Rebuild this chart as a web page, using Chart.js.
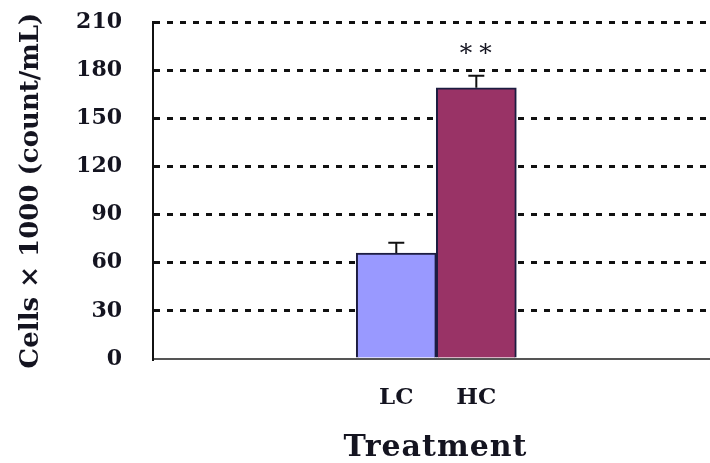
<!DOCTYPE html>
<html>
<head>
<meta charset="utf-8">
<script src="https://cdn.jsdelivr.net/npm/chart.js@4/dist/chart.umd.min.js"></script>
<style>
  html, body { margin: 0; padding: 0; background: #fff; }
  #wrap { width: 710px; height: 463px; }
</style>
</head>
<body>
<div id="wrap"><canvas id="c" width="710" height="463"></canvas></div>
<script>
// Cell counts per treatment (cells x 1000 per mL)
const categories = ['LC', 'HC'];
const cellCounts = [66, 169];
const errors = [6.5, 7.5];
const significance = ['', '**'];
const yTicks = [0, 30, 60, 90, 120, 150, 180, 210];
const barColors = ['#9999FF', '#993366'];

// Horizontal extent of the plot, in category units (bars sit at 0 and 1)
const X_MIN = -3.04;
const X_MAX = 3.92;

const SERIF = '"DejaVu Serif", "Liberation Serif", serif';
const INK = '#141420';

// Error bars (upper whisker), significance marks and the x-axis title
const annotate = {
  id: 'annotate',
  afterDatasetsDraw(chart) {
    const { ctx, scales: { x, y } } = chart;
    ctx.save();
    ctx.strokeStyle = '#111';
    ctx.lineWidth = 2;
    cellCounts.forEach((v, i) => {
      const px = x.getPixelForValue(i);
      const top = y.getPixelForValue(v + errors[i]);
      const base = y.getPixelForValue(v);
      ctx.beginPath();
      ctx.moveTo(px, base);
      ctx.lineTo(px, top);
      ctx.moveTo(px - 8, top);
      ctx.lineTo(px + 8, top);
      ctx.stroke();
      if (significance[i]) {
        ctx.fillStyle = INK;
        ctx.font = '25px ' + SERIF;
        ctx.letterSpacing = '7px';
        ctx.textAlign = 'center';
        ctx.textBaseline = 'middle';
        ctx.fillText(significance[i], px + 3, top - 21);
        ctx.letterSpacing = '0px';
      }
    });
    ctx.restore();
  },
  afterDraw(chart) {
    const { ctx, chartArea } = chart;
    ctx.save();
    ctx.fillStyle = INK;
    ctx.font = 'bold 30px ' + SERIF;
    ctx.letterSpacing = '1px';
    ctx.textAlign = 'center';
    ctx.textBaseline = 'middle';
    ctx.fillText('Treatment', (chartArea.left + chartArea.right) / 2 + 4, chartArea.bottom + 89);
    ctx.restore();
  }
};

new Chart(document.getElementById('c'), {
  type: 'bar',
  data: {
    datasets: [{
      data: cellCounts.map((v, i) => ({ x: i, y: v })),
      backgroundColor: barColors,
      borderColor: '#1c1c40',
      borderWidth: 2,
      borderSkipped: 'bottom',
      barPercentage: 1,
      categoryPercentage: 1
    }]
  },
  options: {
    responsive: false,
    animation: false,
    devicePixelRatio: 1,
    layout: { padding: { top: 22, right: 0, bottom: 0, left: 0 } },
    plugins: { legend: { display: false }, tooltip: { enabled: false } },
    scales: {
      x: {
        type: 'linear',
        offset: false,
        min: X_MIN,
        max: X_MAX,
        afterDataLimits: (s) => { s.min = X_MIN; s.max = X_MAX; },
        afterBuildTicks: (s) => { s.ticks = categories.map((_, i) => ({ value: i })); },
        afterFit: (s) => { s.height = 104; },
        ticks: {
          callback: (v) => categories[v] ?? '',
          font: { family: SERIF, size: 23, weight: 'bold' },
          color: INK,
          padding: 25,
          autoSkip: false,
          maxRotation: 0
        },
        grid: { display: false, drawTicks: false, offset: false },
        border: { display: true, color: '#555', width: 2 }
      },
      y: {
        min: 0,
        max: 210,
        afterBuildTicks: (s) => { s.ticks = yTicks.map(v => ({ value: v })); },
        afterFit: (s) => { s.width = 153; s.paddingTop = 0; s.paddingBottom = 0; },
        ticks: {
          font: { family: SERIF, size: 22, weight: 'bold' },
          color: INK,
          padding: 31
        },
        grid: {
          drawTicks: false,
          color: (c) => (c.tick && c.tick.value === 0 ? 'rgba(0,0,0,0)' : '#111'),
          lineWidth: 3
        },
        border: { display: true, color: '#111', width: 2, dash: [6, 7] },
        title: {
          display: true,
          text: 'Cells × 1000 (count/mL)',
          font: { family: SERIF, size: 26, weight: 'bold' },
          color: INK,
          padding: { top: 16, bottom: 0 }
        }
      }
    }
  },
  plugins: [annotate]
});
</script>
</body>
</html>
